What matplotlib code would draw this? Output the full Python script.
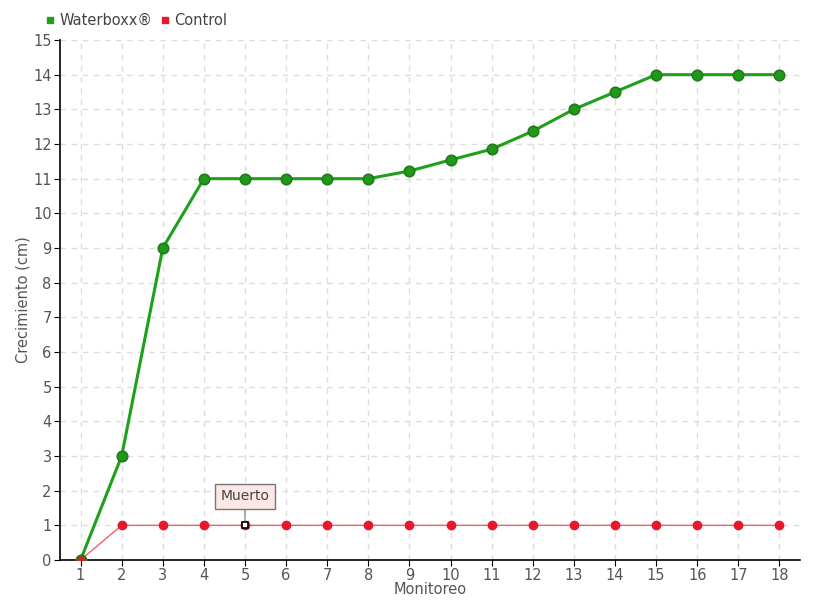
import matplotlib
matplotlib.use("Agg")
import matplotlib.pyplot as plt
from matplotlib.lines import Line2D

monitoreo = list(range(1, 19))
waterboxx = [0, 3, 9, 11, 11, 11, 11, 11, 11.22, 11.54, 11.85, 12.37, 13.0, 13.5, 14, 14, 14, 14]
control = [0, 1, 1, 1, 1, 1, 1, 1, 1, 1, 1, 1, 1, 1, 1, 1, 1, 1]
y_ticks = list(range(0, 16))
annot_idx = 4
annot_text = "Muerto"

plt.rcParams['font.family'] = ['DejaVu Sans']

fig = plt.figure(figsize=(8.2, 6.0), dpi=100)
ax = fig.add_axes([60/820, 40/600, 740/820, 520/600])

ax.plot(monitoreo, waterboxx, color="#1fa01a", lw=2.2, marker="o", ms=7.5,
        markerfacecolor="#1f9a18", markeredgecolor="#237a1c", markeredgewidth=1.2, zorder=3)
ax.plot(monitoreo, control, color="#f0606a", lw=1.0, marker="o", ms=6,
        markerfacecolor="#e8182c", markeredgecolor="#e8182c", zorder=4)
ax.plot([monitoreo[annot_idx]], [control[annot_idx]], marker="s", ms=4.5,
        markerfacecolor="white", markeredgecolor="black", markeredgewidth=1.2, zorder=5, ls="none")
ax.plot([monitoreo[0]], [control[0]], marker="o", ms=7, markerfacecolor="#e8182c",
        markeredgecolor="#237a1c", markeredgewidth=1.2, zorder=5, ls="none")

ax.annotate(annot_text, xy=(monitoreo[annot_idx], control[annot_idx]), xytext=(0, 21),
            textcoords="offset points", ha="center", va="center", fontsize=10, color="#444444",
            bbox=dict(boxstyle="square,pad=0.4", fc="#fde6e6", ec="#777777", lw=1),
            arrowprops=dict(arrowstyle="-", color="#777777", lw=0.8, shrinkA=0, shrinkB=3),
            zorder=6)

ax.set_xlim(0.5, 18.5)
ax.set_ylim(0, 15)
ax.set_xticks(monitoreo)
ax.set_yticks(y_ticks)
ax.tick_params(axis="both", labelcolor="#555555", labelsize=10.5, length=4, direction="out",
               color="black", pad=2)
ax.grid(True, color="#dddddd", ls=(0, (4, 4)), lw=1)
ax.set_axisbelow(True)
for s in ["top", "right"]:
    ax.spines[s].set_visible(False)
for s in ["left", "bottom"]:
    ax.spines[s].set_color("black")
    ax.spines[s].set_linewidth(1.2)
ax.set_xlabel("Monitoreo", color="#555555", fontsize=10.5, labelpad=-1)
ax.set_ylabel("Crecimiento (cm)", color="#555555", fontsize=10.5, labelpad=2)

h = [Line2D([], [], ls="none", marker="s", ms=5, color="#1fa01a"),
     Line2D([], [], ls="none", marker="s", ms=5, color="#e8182c")]
fig.legend(h, ["Waterboxx®", "Control"], loc="upper left", bbox_to_anchor=(46/820, 1 - 13/600),
           ncol=2, frameon=False, fontsize=10.5, handlelength=0.6, handletextpad=0.3,
           columnspacing=0.6, labelcolor="#444444", borderaxespad=0, borderpad=0)

fig.savefig("out.png", dpi=100)
